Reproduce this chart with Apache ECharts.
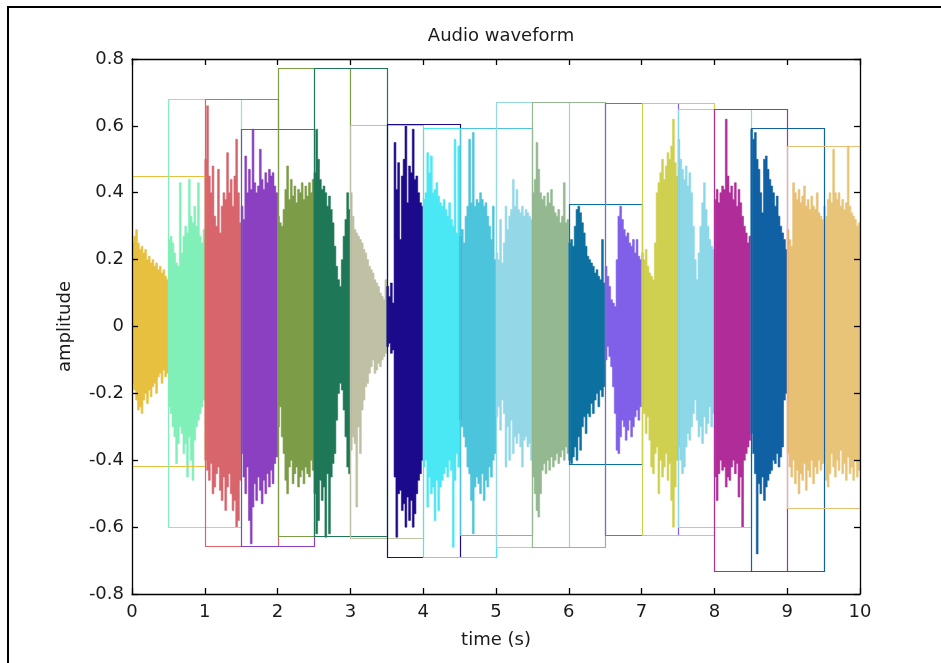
<!DOCTYPE html>
<html>
<head>
<meta charset="utf-8">
<title>Audio waveform</title>
<script src="https://cdn.jsdelivr.net/npm/echarts@6/dist/echarts.min.js"></script>
<style>
  html, body { margin: 0; padding: 0; background: #fff; }
  #chart { width: 941px; height: 663px; }
</style>
</head>
<body>
<div id="chart"></div>
<script>
// Twenty half-second segments, each drawn with its own colour.
const segDur = 0.5;
const segColors = [
  '#e8c040', '#80f0b8', '#d8646c', '#8a40c0', '#7c9c48',
  '#1e7858', '#c0c0a4', '#1c0a8c', '#4ae8f4', '#4cc4dc',
  '#94d8e8', '#94b890', '#0c70a0', '#8060e8', '#d0d050',
  '#8cd8e8', '#b02c98', '#1060a4', '#e8c074', '#e8c478'
];

// Peak envelope of each segment, 20 steps of 25 ms per segment.
const upperEnv = [
  [0.25, 0.27, 0.29, 0.25, 0.23, 0.24, 0.22, 0.23, 0.20, 0.21, 0.19, 0.20, 0.18, 0.19, 0.17, 0.18, 0.16, 0.17, 0.15, 0.14],
  [0.26, 0.27, 0.25, 0.22, 0.19, 0.18, 0.43, 0.22, 0.27, 0.30, 0.28, 0.44, 0.33, 0.31, 0.36, 0.30, 0.43, 0.27, 0.25, 0.29],
  [0.50, 0.66, 0.45, 0.40, 0.48, 0.33, 0.30, 0.47, 0.28, 0.36, 0.40, 0.38, 0.52, 0.40, 0.44, 0.36, 0.45, 0.56, 0.40, 0.31],
  [0.36, 0.32, 0.51, 0.40, 0.47, 0.41, 0.59, 0.43, 0.40, 0.42, 0.53, 0.44, 0.41, 0.46, 0.43, 0.47, 0.45, 0.46, 0.42, 0.40],
  [0.33, 0.31, 0.30, 0.35, 0.41, 0.48, 0.38, 0.44, 0.39, 0.42, 0.37, 0.41, 0.40, 0.43, 0.38, 0.42, 0.39, 0.43, 0.40, 0.44],
  [0.46, 0.59, 0.50, 0.44, 0.41, 0.42, 0.40, 0.36, 0.39, 0.35, 0.31, 0.24, 0.18, 0.14, 0.12, 0.20, 0.27, 0.32, 0.40, 0.35],
  [0.40, 0.33, 0.29, 0.28, 0.27, 0.26, 0.25, 0.23, 0.22, 0.20, 0.18, 0.17, 0.16, 0.14, 0.13, 0.12, 0.10, 0.09, 0.08, 0.14],
  [0.12, 0.09, 0.13, 0.07, 0.55, 0.41, 0.49, 0.26, 0.45, 0.50, 0.60, 0.37, 0.48, 0.46, 0.59, 0.44, 0.45, 0.40, 0.37, 0.36],
  [0.38, 0.40, 0.52, 0.46, 0.51, 0.40, 0.41, 0.43, 0.39, 0.37, 0.36, 0.38, 0.35, 0.33, 0.37, 0.32, 0.30, 0.56, 0.28, 0.54],
  [0.27, 0.29, 0.25, 0.33, 0.36, 0.56, 0.37, 0.58, 0.36, 0.38, 0.37, 0.40, 0.38, 0.36, 0.37, 0.33, 0.30, 0.26, 0.36, 0.20],
  [0.22, 0.20, 0.32, 0.19, 0.25, 0.36, 0.29, 0.33, 0.35, 0.44, 0.36, 0.41, 0.35, 0.34, 0.36, 0.33, 0.35, 0.34, 0.33, 0.32],
  [0.40, 0.44, 0.55, 0.47, 0.40, 0.38, 0.39, 0.36, 0.40, 0.37, 0.41, 0.36, 0.34, 0.33, 0.35, 0.31, 0.33, 0.43, 0.31, 0.32],
  [0.25, 0.26, 0.24, 0.30, 0.35, 0.36, 0.34, 0.31, 0.28, 0.24, 0.21, 0.20, 0.19, 0.18, 0.16, 0.17, 0.15, 0.14, 0.26, 0.13],
  [0.18, 0.15, 0.12, 0.08, 0.07, 0.06, 0.20, 0.33, 0.36, 0.32, 0.29, 0.27, 0.28, 0.25, 0.24, 0.26, 0.22, 0.26, 0.21, 0.20],
  [0.22, 0.20, 0.23, 0.18, 0.16, 0.15, 0.14, 0.25, 0.40, 0.43, 0.46, 0.50, 0.44, 0.48, 0.52, 0.50, 0.54, 0.62, 0.49, 0.45],
  [0.56, 0.50, 0.47, 0.44, 0.48, 0.42, 0.46, 0.40, 0.30, 0.20, 0.14, 0.22, 0.30, 0.37, 0.43, 0.35, 0.30, 0.26, 0.24, 0.23],
  [0.38, 0.41, 0.37, 0.40, 0.42, 0.41, 0.62, 0.45, 0.40, 0.42, 0.38, 0.43, 0.36, 0.41, 0.37, 0.33, 0.30, 0.28, 0.25, 0.27],
  [0.59, 0.56, 0.58, 0.50, 0.47, 0.40, 0.34, 0.50, 0.51, 0.47, 0.44, 0.42, 0.40, 0.36, 0.39, 0.33, 0.30, 0.28, 0.26, 0.23],
  [0.29, 0.26, 0.24, 0.43, 0.40, 0.38, 0.41, 0.37, 0.39, 0.42, 0.36, 0.38, 0.35, 0.39, 0.36, 0.35, 0.40, 0.34, 0.33, 0.32],
  [0.36, 0.33, 0.38, 0.40, 0.37, 0.53, 0.40, 0.38, 0.40, 0.36, 0.38, 0.35, 0.37, 0.54, 0.36, 0.34, 0.33, 0.32, 0.30, 0.31]
];

const lowerEnv = [
  [-0.17, -0.19, -0.22, -0.25, -0.24, -0.26, -0.22, -0.20, -0.23, -0.19, -0.21, -0.18, -0.17, -0.20, -0.15, -0.14, -0.17, -0.13, -0.15, -0.14],
  [-0.24, -0.26, -0.30, -0.33, -0.41, -0.35, -0.30, -0.32, -0.38, -0.35, -0.45, -0.33, -0.40, -0.46, -0.34, -0.30, -0.28, -0.26, -0.24, -0.22],
  [-0.40, -0.43, -0.46, -0.41, -0.50, -0.48, -0.44, -0.42, -0.49, -0.52, -0.45, -0.55, -0.48, -0.44, -0.50, -0.55, -0.52, -0.60, -0.58, -0.46],
  [-0.38, -0.45, -0.50, -0.42, -0.58, -0.65, -0.54, -0.47, -0.52, -0.45, -0.49, -0.53, -0.46, -0.50, -0.44, -0.48, -0.43, -0.47, -0.41, -0.39],
  [-0.30, -0.24, -0.33, -0.38, -0.46, -0.50, -0.42, -0.40, -0.47, -0.44, -0.42, -0.48, -0.45, -0.43, -0.47, -0.42, -0.44, -0.45, -0.40, -0.43],
  [-0.50, -0.62, -0.58, -0.46, -0.52, -0.48, -0.63, -0.44, -0.62, -0.45, -0.41, -0.38, -0.28, -0.20, -0.17, -0.19, -0.25, -0.33, -0.42, -0.44],
  [-0.37, -0.33, -0.35, -0.54, -0.30, -0.38, -0.25, -0.22, -0.18, -0.17, -0.14, -0.12, -0.10, -0.14, -0.13, -0.11, -0.12, -0.10, -0.09, -0.08],
  [-0.06, -0.05, -0.08, -0.07, -0.45, -0.63, -0.50, -0.49, -0.55, -0.53, -0.60, -0.51, -0.58, -0.52, -0.60, -0.56, -0.50, -0.46, -0.44, -0.40],
  [-0.42, -0.40, -0.54, -0.45, -0.50, -0.48, -0.58, -0.46, -0.55, -0.48, -0.46, -0.44, -0.42, -0.45, -0.40, -0.43, -0.66, -0.46, -0.38, -0.42],
  [-0.28, -0.30, -0.33, -0.36, -0.42, -0.44, -0.52, -0.62, -0.48, -0.45, -0.47, -0.50, -0.44, -0.52, -0.46, -0.48, -0.42, -0.45, -0.40, -0.38],
  [-0.27, -0.24, -0.31, -0.22, -0.26, -0.42, -0.30, -0.40, -0.28, -0.38, -0.33, -0.35, -0.32, -0.36, -0.42, -0.34, -0.33, -0.36, -0.35, -0.40],
  [-0.45, -0.50, -0.55, -0.57, -0.50, -0.43, -0.41, -0.44, -0.40, -0.43, -0.39, -0.42, -0.40, -0.38, -0.41, -0.39, -0.37, -0.40, -0.36, -0.38],
  [-0.40, -0.41, -0.39, -0.36, -0.40, -0.33, -0.37, -0.30, -0.27, -0.32, -0.26, -0.27, -0.23, -0.26, -0.22, -0.20, -0.24, -0.19, -0.21, -0.18],
  [-0.10, -0.06, -0.09, -0.12, -0.18, -0.26, -0.37, -0.38, -0.33, -0.28, -0.30, -0.34, -0.31, -0.28, -0.33, -0.30, -0.27, -0.25, -0.28, -0.24],
  [-0.24, -0.26, -0.32, -0.27, -0.34, -0.42, -0.44, -0.38, -0.36, -0.50, -0.40, -0.45, -0.42, -0.38, -0.46, -0.41, -0.52, -0.60, -0.48, -0.40],
  [-0.36, -0.40, -0.44, -0.42, -0.36, -0.32, -0.34, -0.30, -0.26, -0.22, -0.28, -0.33, -0.30, -0.35, -0.27, -0.32, -0.29, -0.24, -0.30, -0.26],
  [-0.45, -0.52, -0.44, -0.40, -0.43, -0.42, -0.48, -0.45, -0.46, -0.42, -0.40, -0.44, -0.41, -0.51, -0.45, -0.60, -0.40, -0.38, -0.36, -0.34],
  [-0.32, -0.38, -0.44, -0.68, -0.47, -0.50, -0.45, -0.52, -0.48, -0.46, -0.44, -0.43, -0.40, -0.41, -0.38, -0.42, -0.39, -0.36, -0.22, -0.20],
  [-0.38, -0.42, -0.45, -0.40, -0.47, -0.43, -0.50, -0.44, -0.46, -0.41, -0.49, -0.43, -0.45, -0.40, -0.47, -0.42, -0.44, -0.40, -0.43, -0.41],
  [-0.40, -0.46, -0.48, -0.44, -0.38, -0.42, -0.45, -0.40, -0.43, -0.37, -0.44, -0.41, -0.46, -0.39, -0.44, -0.42, -0.46, -0.40, -0.45, -0.43]
];

// One-second outline boxes, one starting every half second.
const boxStart  = [0, 0.5, 1, 1.5, 2, 2.5, 3, 3.5, 4, 4.5, 5, 5.5, 6, 6.5, 7, 7.5, 8, 8.5, 9];
const boxLength = 1;
const boxTop    = [0.451, 0.679, 0.679, 0.590, 0.772, 0.772, 0.602, 0.605, 0.594, 0.594,
                   0.670, 0.670, 0.365, 0.667, 0.667, 0.650, 0.650, 0.594, 0.539];
const boxBottom = [-0.416, -0.600, -0.655, -0.655, -0.628, -0.628, -0.633, -0.688, -0.688, -0.623,
                   -0.660, -0.660, -0.411, -0.623, -0.623, -0.600, -0.730, -0.730, -0.544];

const FONT = 'DejaVu Sans';
const TEXT = '#1a1a1a';

const waveData = segColors.map((c, i) => [
  i * segDur, (i + 1) * segDur,
  Math.max.apply(null, upperEnv[i]), Math.min.apply(null, lowerEnv[i]), i
]);
const boxData = boxStart.map((t, i) => [t, t + boxLength, boxTop[i], boxBottom[i], i]);

function renderWave(params, api) {
  const t0 = api.value(0);
  const s = api.value(4);
  const up = upperEnv[s], lo = lowerEnv[s];
  const dt = segDur / up.length;
  const pts = [];
  for (let j = 0; j < up.length; j++) {
    pts.push(api.coord([t0 + j * dt, up[j]]));
    pts.push(api.coord([t0 + (j + 1) * dt, up[j]]));
  }
  for (let j = lo.length - 1; j >= 0; j--) {
    pts.push(api.coord([t0 + (j + 1) * dt, lo[j]]));
    pts.push(api.coord([t0 + j * dt, lo[j]]));
  }
  return {
    type: 'polygon',
    shape: { points: pts },
    style: { fill: segColors[s], stroke: segColors[s], lineWidth: 0.6 }
  };
}

function renderBox(params, api) {
  const i = api.value(4);
  const a = api.coord([api.value(0), api.value(2)]);
  const b = api.coord([api.value(1), api.value(3)]);
  const x0 = Math.round(a[0]) + 0.5, y0 = Math.round(a[1]) + 0.5;
  const x1 = Math.round(b[0]) + 0.5, y1 = Math.round(b[1]) + 0.5;
  return {
    type: 'rect',
    shape: { x: x0, y: y0, width: x1 - x0, height: y1 - y0 },
    style: { fill: null, stroke: segColors[i], lineWidth: 1.2 }
  };
}

const tickFmt = v => String(Number(v.toFixed(1)));
const axisLineStyle = { show: true, onZero: false, lineStyle: { color: '#000', width: 1.3 } };
const tickStyle = { show: true, inside: true, length: 6, lineStyle: { color: '#000', width: 1.3 } };

const chart = echarts.init(document.getElementById('chart'), null, { renderer: 'canvas' });
chart.setOption({
  backgroundColor: '#fff',
  animation: false,
  title: {
    text: 'Audio waveform',
    left: 496, top: 22, textAlign: 'center',
    textStyle: { fontFamily: FONT, fontSize: 18, fontWeight: 'normal', color: TEXT }
  },
  grid: { left: 132, right: 81, top: 59, bottom: 69, containLabel: false },
  xAxis: [
    {
      type: 'value', min: 0, max: 10, interval: 1, position: 'bottom',
      name: 'time (s)', nameLocation: 'middle', nameGap: 46,
      nameTextStyle: { fontFamily: FONT, fontSize: 18, color: TEXT, verticalAlign: 'middle' },
      axisLine: axisLineStyle, axisTick: tickStyle,
      axisLabel: { margin: 9, fontFamily: FONT, fontSize: 18, color: TEXT },
      splitLine: { show: false }, z: 10
    },
    {
      type: 'value', min: 0, max: 10, interval: 1, position: 'top',
      axisLine: axisLineStyle, axisTick: tickStyle,
      axisLabel: { show: false }, splitLine: { show: false }, z: 10
    }
  ],
  yAxis: [
    {
      type: 'value', min: -0.8, max: 0.8, interval: 0.2, position: 'left',
      name: 'amplitude', nameLocation: 'middle', nameGap: 67, nameRotate: 90,
      nameTextStyle: { fontFamily: FONT, fontSize: 18, color: TEXT, verticalAlign: 'middle' },
      axisLine: axisLineStyle, axisTick: tickStyle,
      axisLabel: { margin: 8, fontFamily: FONT, fontSize: 18, color: TEXT, formatter: tickFmt },
      splitLine: { show: false }, z: 10
    },
    {
      type: 'value', min: -0.8, max: 0.8, interval: 0.2, position: 'right',
      axisLine: axisLineStyle, axisTick: tickStyle,
      axisLabel: { show: false }, splitLine: { show: false }, z: 10
    }
  ],
  graphic: [
    {
      type: 'polyline', silent: true,
      shape: { points: [[8, 663], [8, 7], [941, 7]] },
      style: { stroke: '#000', lineWidth: 2, fill: null }
    }
  ],
  series: [
    {
      type: 'custom', name: 'waveform', clip: true,
      xAxisIndex: 0, yAxisIndex: 0,
      encode: { x: [0, 1], y: [2, 3] },
      renderItem: renderWave, data: waveData, z: 2
    },
    {
      type: 'custom', name: 'windows', clip: true,
      xAxisIndex: 0, yAxisIndex: 0,
      encode: { x: [0, 1], y: [2, 3] },
      renderItem: renderBox, data: boxData, z: 3
    }
  ]
});
</script>
</body>
</html>
